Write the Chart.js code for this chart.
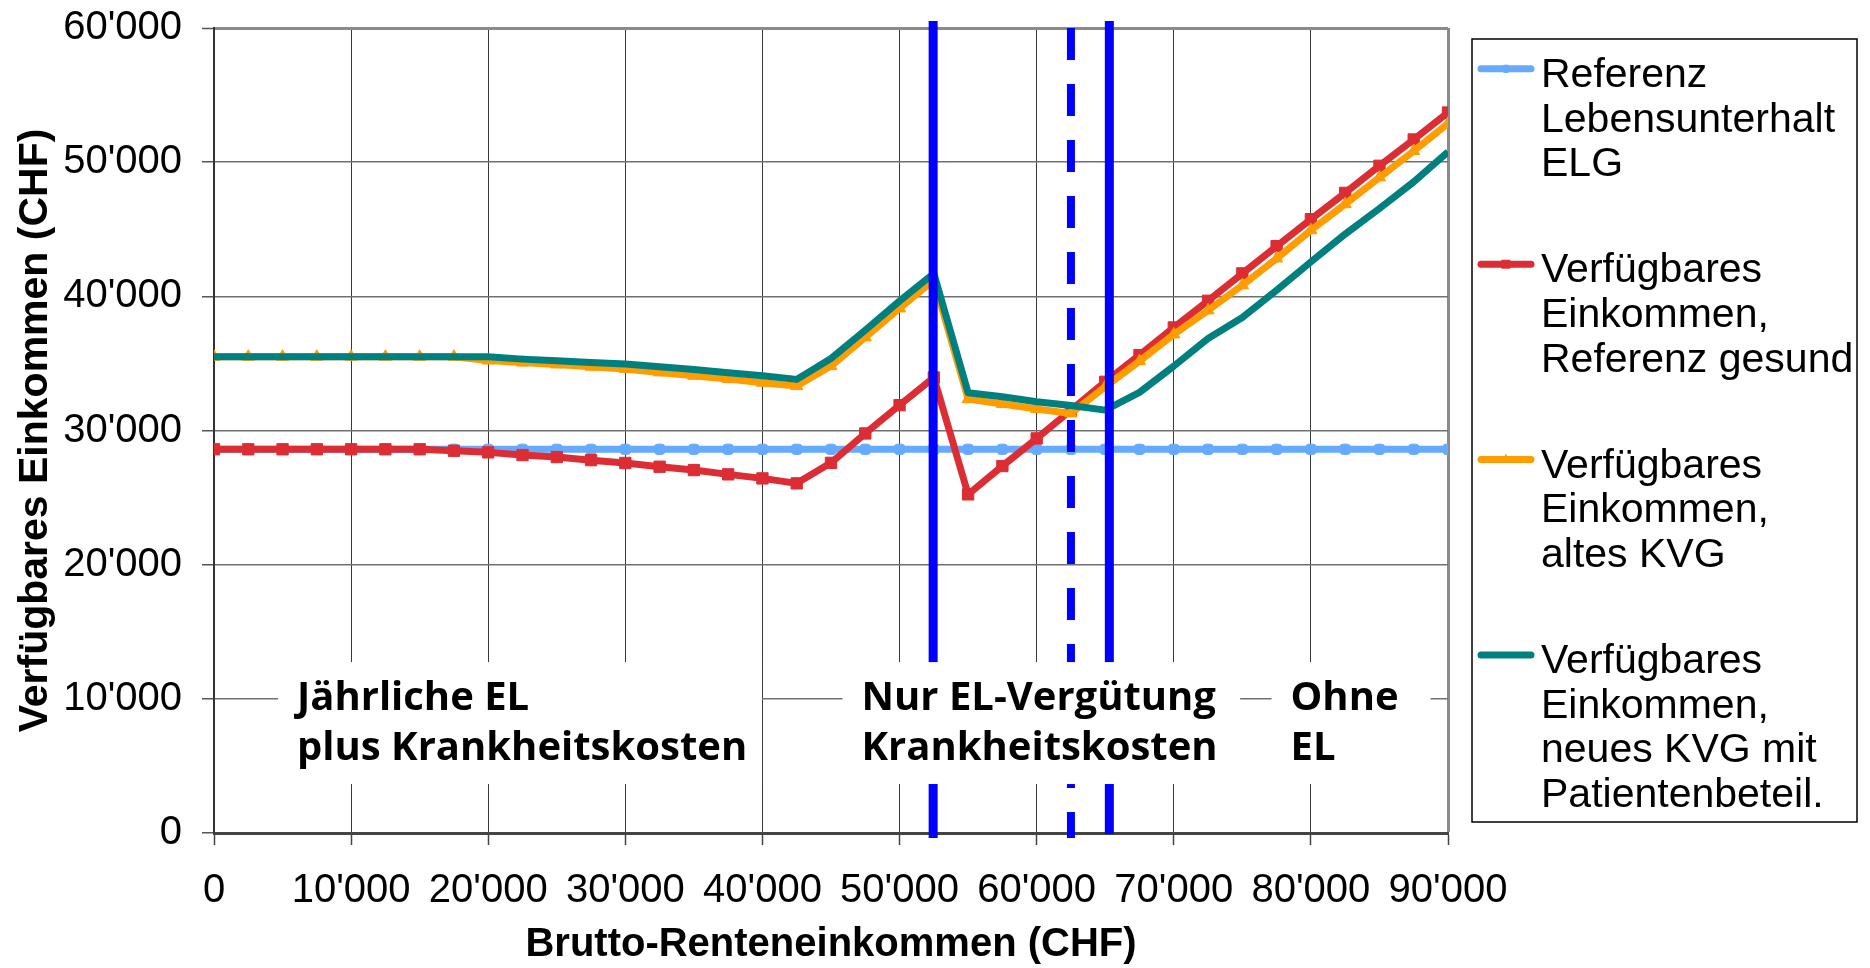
<!DOCTYPE html>
<html>
<head>
<meta charset="utf-8">
<script src="https://cdn.jsdelivr.net/npm/chart.js@4/dist/chart.umd.min.js"></script>
<style>
  html, body { margin: 0; padding: 0; background: #ffffff; }
  #wrap { width: 1870px; height: 968px; }
</style>
</head>
<body>
<div id="wrap"><canvas id="c" width="1870" height="968"></canvas></div>
<script>
// Brutto-Renteneinkommen (CHF), Schritte von 2'500
const incomes = [
  0, 2500, 5000, 7500, 10000, 12500, 15000, 17500, 20000, 22500,
  25000, 27500, 30000, 32500, 35000, 37500, 40000, 42500, 45000, 47500,
  50000, 52500, 55000, 57500, 60000, 62500, 65000, 67500, 70000, 72500,
  75000, 77500, 80000, 82500, 85000, 87500, 90000
];

// Referenz Lebensunterhalt ELG
const referenzELG = [
  28600, 28600, 28600, 28600, 28600, 28600, 28600, 28600, 28600, 28600,
  28600, 28600, 28600, 28600, 28600, 28600, 28600, 28600, 28600, 28600,
  28600, 28600, 28600, 28600, 28600, 28600, 28600, 28600, 28600, 28600,
  28600, 28600, 28600, 28600, 28600, 28600, 28600
];

// Verfügbares Einkommen, Referenz gesund
const einkommenGesund = [
  28600, 28600, 28600, 28600, 28600, 28600, 28600, 28490, 28370, 28170,
  28020, 27790, 27580, 27300, 27050, 26730, 26430, 26060, 27590, 29780,
  31890, 33950, 25240, 27350, 29410, 31520, 33630, 35620, 37680, 39670,
  41710, 43740, 45750, 47710, 49730, 51690, 53700
];

// Verfügbares Einkommen, altes KVG
const einkommenAltesKVG = [
  35500, 35500, 35500, 35500, 35500, 35500, 35500, 35500, 35220, 35060,
  34920, 34760, 34590, 34330, 34080, 33830, 33560, 33310, 34800, 36940,
  39100, 41210, 32340, 31970, 31600, 31270, 33260, 35170, 37160, 38950,
  40830, 42820, 44930, 46870, 48860, 50840, 52880
];

// Verfügbares Einkommen, neues KVG mit Patientenbeteiligung
const einkommenNeuesKVG = [
  35500, 35500, 35500, 35500, 35500, 35500, 35500, 35500, 35490, 35320,
  35200, 35070, 34960, 34750, 34550, 34300, 34080, 33810, 35370, 37480,
  39650, 41710, 32810, 32510, 32140, 31860, 31520, 32840, 34800, 36860,
  38430, 40460, 42570, 44640, 46550, 48530, 50770
];

const seriesLabels = [
  ['Referenz', 'Lebensunterhalt', 'ELG'],
  ['Verfügbares', 'Einkommen,', 'Referenz gesund'],
  ['Verfügbares', 'Einkommen,', 'altes KVG'],
  ['Verfügbares', 'Einkommen,', 'neues KVG mit', 'Patientenbeteil.']
];

// Grenzen der Bereiche (Einkommen in CHF); gestrichelt = Zwischengrenze
const bereichsGrenzen = [52450, 62500, 65300];
const grenzeGestrichelt = [false, true, false];

// Bereichsbeschriftungen mit ihren Kastenbreiten (Einkommen in CHF)
const bereichsTexte = [
  ['Jährliche EL', 'plus Krankheitskosten'],
  ['Nur EL-Vergütung', 'Krankheitskosten'],
  ['Ohne', 'EL']
];
const bereichVon = [4670, 45840, 77130];
const bereichBis = [39970, 74840, 88730];

const xAxisTitle = 'Brutto-Renteneinkommen (CHF)';
const yAxisTitle = 'Verfügbares Einkommen (CHF)';

const fmtCHF = v => String(v).replace(/\B(?=(\d{3})+(?!\d))/g, "'");
const toPoints = arr => arr.map((y, i) => ({ x: incomes[i], y }));

const ARIAL = '"Liberation Sans", Arial, Helvetica, sans-serif';
const BOX_FONT = '"Open Sans", "Noto Sans", sans-serif';

// Blue region boundaries plus white annotation boxes
const regionPlugin = {
  id: 'regions',
  afterDatasetsDraw(chart) {
    const { ctx, scales: { x, y } } = chart;
    ctx.save();
    ctx.strokeStyle = '#0000ff';
    bereichsGrenzen.forEach((v, i) => {
      const px = x.getPixelForValue(v);
      ctx.beginPath();
      ctx.lineWidth = grenzeGestrichelt[i] ? 8 : 9;
      ctx.setLineDash(grenzeGestrichelt[i] ? [32, 24] : []);
      ctx.lineDashOffset = grenzeGestrichelt[i] ? -7 : 0;
      ctx.moveTo(px, chart.chartArea.top - 7);
      ctx.lineTo(px, chart.chartArea.bottom + (i === 2 ? 1 : 5));
      ctx.stroke();
    });
    ctx.setLineDash([]);

    const boxTop = y.getPixelForValue(12740);
    const boxBottom = y.getPixelForValue(3650);
    bereichsTexte.forEach((lines, i) => {
      const l = x.getPixelForValue(bereichVon[i]);
      const r = x.getPixelForValue(bereichBis[i]);
      ctx.fillStyle = '#ffffff';
      ctx.fillRect(l, boxTop, r - l, boxBottom - boxTop);
      ctx.fillStyle = '#000000';
      ctx.font = 'bold 40px ' + BOX_FONT;
      ctx.textAlign = 'left';
      ctx.textBaseline = 'alphabetic';
      lines.forEach((t, k) => ctx.fillText(t, l + 19, boxTop + 48 + k * 50));
    });
    ctx.restore();
  }
};

// Legend on the right with multi-line entries
const legendPlugin = {
  id: 'sideLegend',
  afterDraw(chart) {
    const { ctx } = chart;
    const box = { left: 1472, top: 39, right: 1857, bottom: 822 };
    ctx.save();
    ctx.strokeStyle = '#000000';
    ctx.lineWidth = 1.5;
    ctx.strokeRect(box.left, box.top, box.right - box.left, box.bottom - box.top);
    ctx.font = '41px ' + ARIAL;
    ctx.textAlign = 'left';
    ctx.textBaseline = 'alphabetic';
    chart.data.datasets.forEach((ds, i) => {
      const base = 86.8 + i * 195.4;
      const ly = base - 18;
      ctx.strokeStyle = ds.borderColor;
      ctx.lineWidth = ds.borderWidth;
      ctx.lineCap = 'round';
      ctx.beginPath();
      ctx.moveTo(1481, ly);
      ctx.lineTo(1531, ly);
      ctx.stroke();
      if (ds.pointRadius > 0) {
        ctx.fillStyle = ds.pointBackgroundColor;
        ctx.strokeStyle = ds.pointBorderColor;
        ctx.lineWidth = 1;
        Chart.helpers.drawPoint(ctx, {
          pointStyle: ds.pointStyle, radius: ds.pointRadius * 0.7, rotation: 0,
          borderWidth: 1
        }, 1506, ly);
      }
      ctx.fillStyle = '#000000';
      seriesLabels[i].forEach((t, k) => ctx.fillText(t, 1541, base + k * 44.7));
    });
    ctx.restore();
  }
};

const mkSet = (data, color, style, radius, order) => ({
  data: toPoints(data),
  borderColor: color,
  backgroundColor: color,
  pointBackgroundColor: color,
  pointBorderColor: color,
  borderWidth: 7,
  pointStyle: style,
  pointRadius: radius,
  pointBorderWidth: 1,
  borderJoinStyle: 'round',
  tension: 0,
  order
});

new Chart(document.getElementById('c'), {
  type: 'line',
  data: {
    datasets: [
      mkSet(referenzELG, '#66aaff', 'rectRounded', 6, 4),
      mkSet(einkommenGesund, '#dc2d35', 'rect', 8, 3),
      mkSet(einkommenAltesKVG, '#ff9c00', 'triangle', 7, 2),
      mkSet(einkommenNeuesKVG, '#007f7f', 'circle', 0, 1)
    ]
  },
  options: {
    responsive: false,
    animation: false,
    devicePixelRatio: 1,
    layout: { autoPadding: false, padding: { left: 0, top: 28, right: 422, bottom: 0 } },
    plugins: { legend: { display: false }, tooltip: { enabled: false } },
    scales: {
      x: {
        type: 'linear', min: 0, max: 90000,
        afterFit: s => { s.height = 135; s.paddingLeft = 0; s.paddingRight = 0; },
        ticks: {
          stepSize: 10000, autoSkip: false, maxRotation: 0, padding: 22,
          color: '#000', font: { family: ARIAL, size: 40 },
          callback: v => fmtCHF(v)
        },
        grid: {
          color: c => (c.tick && c.tick.value === 90000 ? '#8a8a8a' : '#3a3a3a'),
          lineWidth: c => (c.tick && c.tick.value === 90000 ? 3 : 1),
          tickLength: 12, tickColor: '#444', tickWidth: 1.5
        },
        border: { color: '#444', width: 3 },
        title: {
          display: true, text: xAxisTitle, color: '#000',
          font: { family: ARIAL, size: 40, weight: 'bold', lineHeight: 1 },
          padding: { top: 0, bottom: 3 }
        }
      },
      y: {
        min: 0, max: 60000,
        afterFit: s => { s.width = 214; s.paddingTop = 0; s.paddingBottom = 0; },
        ticks: {
          stepSize: 10000, padding: 20,
          color: '#000', font: { family: ARIAL, size: 40 },
          callback: v => fmtCHF(v)
        },
        grid: {
          color: c => (c.tick && c.tick.value === 60000 ? '#8a8a8a' : '#707070'),
          lineWidth: c => (c.tick && c.tick.value === 60000 ? 3 : 1.5),
          tickLength: 12, tickColor: '#555', tickWidth: 1.5
        },
        border: { color: '#333', width: 2 },
        title: {
          display: true, text: yAxisTitle, color: '#000',
          font: { family: ARIAL, size: 41, weight: 'bold', lineHeight: 1 },
          padding: { top: 15, bottom: 0 }
        }
      }
    }
  },
  plugins: [regionPlugin, legendPlugin]
});
</script>
</body>
</html>
